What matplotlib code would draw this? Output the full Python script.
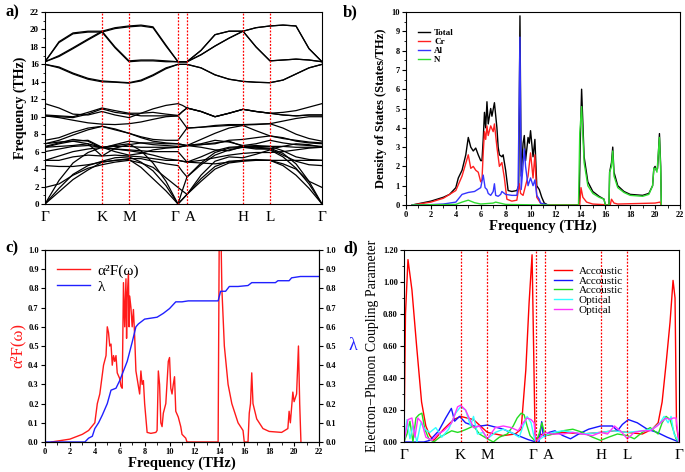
import numpy as np
import matplotlib
matplotlib.use("Agg")
import matplotlib.pyplot as plt
from matplotlib.ticker import MultipleLocator, FormatStrFormatter

plt.rcParams['font.family'] = ['Liberation Serif', 'DejaVu Serif']

# ---------------- panel a: phonon band structure ----------------
sym_labels = ["Γ", "K", "M", "Γ", "A", "H", "L", "Γ"]
sym_pos = [0, 57, 84, 133, 142, 198, 225, 277]
kpath = [0, 14, 28, 43, 57, 70, 84, 96, 108, 121, 133, 137.5, 142,
         156, 170, 184, 198, 211, 225, 238, 251, 264, 277]

band01 = [0, 1.4, 2.8, 3.9, 4.8, 5.0, 5.1, 4.2, 2.9, 1.5, 0, 0.55, 1.1, 2.9, 4.3, 4.9, 5.0, 5.0, 5.0, 4.4, 3.3, 1.8, 0]
band02 = [0, 1.8, 3.4, 4.4, 4.9, 5.3, 5.4, 4.8, 3.8, 2.1, 0, 0.55, 1.1, 3.3, 4.9, 5.4, 5.3, 5.7, 6.2, 5.4, 4.1, 2.3, 0]
band03 = [0, 2.7, 4.7, 5.9, 6.5, 6.7, 6.9, 6.1, 4.7, 2.6, 0, 1.6, 3.1, 4.7, 5.9, 6.4, 6.5, 6.5, 6.4, 5.8, 4.6, 2.6, 0]
band04 = [1.9, 2.3, 3.3, 4.1, 4.5, 4.8, 5.0, 4.7, 4.2, 3.0, 1.9, 1.5, 1.1, 2.6, 4.0, 4.7, 4.9, 5.0, 5.0, 4.6, 4.0, 2.6, 1.9]
band05 = [4.4, 4.3, 4.3, 4.5, 4.8, 5.0, 5.2, 5.2, 4.9, 4.6, 4.4, 3.7, 3.1, 4.5, 5.6, 6.2, 6.5, 6.3, 6.3, 5.6, 4.9, 4.5, 4.4]
band06 = [5.0, 5.0, 5.4, 5.6, 5.5, 5.6, 5.5, 5.4, 5.2, 5.0, 5.0, 4.9, 4.8, 5.4, 6.1, 6.5, 6.6, 6.6, 6.6, 6.1, 5.4, 5.1, 5.0]
band07 = [5.0, 5.5, 6.0, 6.3, 6.5, 6.3, 6.1, 5.9, 5.6, 5.2, 5.0, 4.9, 4.8, 4.7, 4.6, 4.8, 5.0, 5.1, 5.0, 5.0, 5.0, 5.0, 5.0]
band08 = [6.0, 6.3, 6.6, 6.7, 6.5, 6.3, 6.2, 6.1, 6.0, 6.0, 6.0, 5.4, 4.8, 5.0, 5.3, 5.6, 5.8, 5.9, 5.9, 6.0, 6.2, 6.4, 6.5]
band09 = [6.5, 6.9, 7.2, 7.3, 6.5, 6.0, 5.6, 5.8, 6.2, 6.4, 6.5, 6.6, 6.7, 6.8, 7.0, 7.2, 6.6, 6.4, 6.3, 6.6, 6.9, 6.8, 6.5]
band10 = [6.5, 6.6, 6.7, 6.9, 6.5, 6.6, 6.6, 6.5, 6.5, 6.5, 6.5, 6.6, 6.7, 6.5, 6.2, 6.1, 6.6, 6.7, 6.6, 6.6, 6.5, 6.5, 6.5]
band11 = [6.6, 7.0, 7.4, 7.2, 6.4, 6.8, 7.2, 7.0, 6.8, 6.7, 6.6, 6.65, 6.7, 6.9, 7.3, 7.1, 6.7, 6.9, 7.3, 7.0, 6.8, 6.7, 6.6]
band12 = [6.9, 7.1, 7.2, 6.9, 5.5, 6.4, 6.8, 7.0, 7.0, 6.9, 6.9, 6.8, 6.7, 6.8, 6.9, 7.3, 7.4, 7.6, 7.8, 7.6, 7.2, 7.0, 6.9]
band13 = [6.9, 7.3, 7.9, 8.5, 8.9, 8.5, 8.1, 7.6, 7.2, 7.0, 6.9, 6.8, 6.7, 7.4, 8.1, 8.7, 9.0, 8.4, 7.8, 7.5, 7.3, 7.1, 7.0]
band14 = [7.3, 7.6, 8.2, 8.7, 8.9, 8.6, 8.1, 7.7, 7.4, 7.3, 7.3, 8.0, 8.7, 8.8, 8.9, 9.0, 9.05, 9.1, 9.2, 8.7, 8.0, 7.5, 7.2]
band15 = [10.1, 9.9, 9.6, 9.3, 9.15, 9.1, 9.2, 9.4, 9.7, 10.0, 10.1, 9.4, 8.7, 8.8, 9.0, 9.1, 9.1, 9.15, 9.2, 9.5, 9.8, 10.0, 10.0]
band16 = [10.1, 10.0, 9.9, 10.3, 10.9, 10.5, 10.3, 10.1, 10.1, 10.1, 10.1, 10.6, 11.0, 10.6, 10.0, 10.4, 10.85, 10.6, 10.4, 10.2, 10.1, 10.2, 10.2]
band17 = [10.2, 10.1, 10.0, 10.5, 11.0, 10.7, 10.4, 10.4, 10.5, 10.3, 10.15, 10.6, 11.0, 10.6, 10.0, 10.4, 10.85, 10.6, 10.4, 10.2, 10.1, 10.2, 10.2]
band18 = [11.5, 11.0, 10.3, 10.2, 10.6, 10.2, 9.9, 10.4, 10.9, 11.3, 11.5, 11.3, 11.0, 10.6, 10.0, 10.4, 10.85, 10.6, 10.4, 10.5, 10.7, 11.1, 11.5]
band19 = [16.0, 15.7, 15.0, 14.4, 14.1, 14.0, 13.9, 14.2, 14.8, 15.6, 16.0, 16.0, 16.0, 15.6, 14.8, 14.3, 14.05, 13.95, 13.9, 14.2, 14.9, 15.6, 16.0]
band20 = [16.0, 15.6, 14.9, 14.3, 14.0, 13.95, 13.85, 14.1, 14.7, 15.5, 16.0, 16.0, 16.0, 15.6, 14.8, 14.3, 14.05, 13.95, 13.9, 14.2, 14.9, 15.6, 16.0]
band21 = [16.3, 18.6, 19.6, 19.8, 19.8, 20.2, 20.4, 20.5, 20.3, 18.2, 16.3, 16.3, 16.3, 17.6, 19.4, 19.8, 19.8, 20.2, 20.4, 20.5, 20.4, 17.8, 16.3]
band22 = [16.3, 18.5, 19.5, 19.7, 19.7, 20.1, 20.3, 20.4, 20.2, 18.1, 16.3, 16.3, 16.3, 17.6, 19.4, 19.8, 19.8, 20.2, 20.4, 20.5, 20.4, 17.8, 16.3]
band23 = [16.3, 17.0, 17.9, 18.9, 19.8, 18.0, 16.4, 16.5, 16.5, 16.4, 16.3, 16.3, 16.3, 17.1, 18.1, 19.0, 19.8, 18.0, 16.4, 16.5, 16.6, 16.5, 16.3]
band24 = [16.3, 16.9, 17.8, 18.8, 19.7, 17.9, 16.3, 16.4, 16.4, 16.3, 16.3, 16.3, 16.3, 17.1, 18.1, 19.0, 19.8, 18.0, 16.4, 16.5, 16.6, 16.5, 16.3]
bands = [band01, band02, band03, band04, band05, band06, band07, band08,
         band09, band10, band11, band12, band13, band14, band15, band16,
         band17, band18, band19, band20, band21, band22, band23, band24]

# ---------------- panel b: phonon DOS ----------------
tot_f = [0.5, 2, 3, 3.5, 4, 4.2, 4.5, 4.8, 5.0, 5.2, 5.4, 5.6, 5.8, 6.0, 6.1, 6.2, 6.3, 6.4, 6.5, 6.6, 6.8, 6.9, 7.1, 7.3, 7.4, 7.5, 7.7, 7.8, 8.0, 8.2, 8.5, 8.9, 9.05, 9.15, 9.25, 9.4, 9.5, 9.6, 9.8, 9.9, 10.0, 10.2, 10.35, 10.5, 10.7, 10.9, 11.1, 11.4, 13.9, 14.0, 14.1, 14.3, 14.6, 15.0, 15.5, 15.9, 16.0, 16.3, 16.35, 16.5, 16.6, 16.7, 17.0, 17.5, 18.0, 19.0, 19.5, 19.8, 19.9, 20.0, 20.1, 20.2, 20.35, 20.45, 20.5]
tot_d = [0, 0.2, 0.4, 0.55, 0.9, 1.4, 1.8, 2.6, 3.5, 3.0, 2.8, 2.95, 2.6, 2.3, 2.3, 3.4, 4.8, 4.0, 5.35, 4.2, 5.0, 4.6, 5.3, 4.0, 3.0, 2.6, 2.5, 2.6, 1.8, 0.75, 0.7, 0.75, 1.0, 9.8, 1.5, 3.2, 3.6, 2.3, 3.5, 3.2, 3.85, 2.5, 3.4, 1.0, 0.8, 0.4, 0.1, 0, 0, 3.5, 6.0, 2.5, 1.2, 0.7, 0.45, 0.3, 0, 0, 1.7, 2.2, 3.0, 1.7, 1.0, 0.7, 0.55, 0.5, 0.6, 1.0, 1.9, 2.0, 1.8, 1.9, 3.7, 2.0, 0]
cr_f = [0.5, 2, 3, 4, 4.5, 5.0, 5.2, 5.4, 5.6, 5.8, 6.0, 6.1, 6.2, 6.3, 6.4, 6.5, 6.6, 6.8, 7.0, 7.1, 7.3, 7.5, 7.7, 7.9, 8.1, 8.5, 8.9, 9.1, 9.2, 9.4, 9.6, 9.8, 10.0, 10.2, 10.35, 10.5, 10.8, 11.0, 13.95, 14.05, 14.2, 14.5, 15.0, 16.4, 16.5, 16.7, 17.0, 20.0, 20.4, 20.5]
cr_d = [0, 0.15, 0.35, 0.75, 1.5, 2.6, 1.9, 2.0, 1.8, 1.7, 1.2, 1.3, 2.7, 3.8, 3.4, 4.1, 3.6, 4.1, 3.8, 4.2, 3.0, 2.0, 2.2, 1.4, 0.3, 0.2, 0.25, 1.1, 0.6, 0.5, 1.0, 1.5, 2.7, 1.4, 2.6, 0.4, 0.1, 0, 0, 0.9, 0.4, 0.15, 0.05, 0, 0.3, 0.1, 0.05, 0.1, 0.15, 0]
al_f = [0.5, 2, 3, 4, 4.5, 5.0, 5.5, 6.0, 6.2, 6.35, 6.5, 6.6, 6.8, 7.0, 7.1, 7.2, 7.4, 7.6, 7.7, 8.0, 8.5, 8.9, 9.0, 9.15, 9.25, 9.5, 9.6, 9.8, 10.0, 10.2, 10.35, 10.5, 10.7, 10.8, 11.1, 11.4]
al_d = [0, 0.02, 0.05, 0.15, 0.55, 0.65, 0.7, 0.9, 1.55, 0.9, 0.8, 0.6, 0.5, 0.7, 1.1, 0.5, 0.45, 0.55, 0.7, 0.55, 0.5, 0.5, 1.0, 8.7, 0.8, 2.9, 2.0, 1.0, 1.4, 1.0, 1.3, 0.5, 0.3, 0.1, 0.05, 0]
n_f = [0.5, 4, 4.5, 5.0, 5.5, 6.0, 7.0, 7.2, 8.0, 9.0, 11.0, 13.85, 13.95, 14.1, 14.3, 14.6, 15.0, 15.5, 15.9, 16.0, 16.3, 16.35, 16.5, 16.6, 16.7, 17.0, 17.5, 18.0, 19.0, 19.5, 19.8, 19.9, 20.05, 20.15, 20.35, 20.45, 20.5]
n_d = [0, 0.03, 0.15, 0.25, 0.12, 0.05, 0.1, 0.15, 0.03, 0.02, 0, 0, 3.7, 5.1, 2.2, 1.0, 0.6, 0.4, 0.3, 0, 0, 1.7, 2.0, 2.8, 1.5, 0.9, 0.65, 0.5, 0.45, 0.55, 1.0, 1.9, 1.9, 1.7, 3.5, 1.8, 0]

# ---------------- panel c: Eliashberg function and lambda ----------------
a2f_f = [0.5, 1, 2, 3, 3.5, 4.0, 4.2, 4.4, 4.7, 4.9, 5.0, 5.1, 5.2, 5.3, 5.4, 5.5, 5.6, 5.7, 5.8, 6.0, 6.1, 6.2, 6.3, 6.4, 6.5, 6.55, 6.6, 6.7, 6.75, 6.8, 6.9, 7.0, 7.1, 7.2, 7.3, 7.5, 7.6, 7.7, 7.8, 7.9, 8.0, 8.2, 8.5, 8.9, 9.0, 9.1, 9.2, 9.3, 9.4, 9.5, 9.7, 9.9, 10.0, 10.1, 10.2, 10.3, 10.4, 10.5, 10.7, 10.9, 11.0, 11.3, 11.4, 13.9, 14.0, 14.1, 14.2, 14.4, 14.7, 15.0, 15.5, 15.9, 16.0, 16.3, 16.4, 16.5, 16.6, 16.7, 17.0, 17.5, 18.0, 19.0, 19.5, 19.6, 19.7, 19.9, 20.0, 20.2, 20.35, 20.45, 20.55]
a2f_v = [0, 0.005, 0.015, 0.04, 0.06, 0.1, 0.2, 0.25, 0.4, 0.45, 0.6, 0.57, 0.5, 0.51, 0.4, 0.45, 0.42, 0.45, 0.36, 0.33, 0.29, 0.28, 0.83, 0.6, 0.85, 0.54, 0.75, 0.88, 0.6, 0.76, 0.7, 0.6, 0.69, 0.55, 0.37, 0.29, 0.25, 0.37, 0.3, 0.32, 0.2, 0.05, 0.045, 0.05, 0.06, 0.37, 0.3, 0.1, 0.08, 0.15, 0.2, 0.42, 0.44, 0.28, 0.25, 0.3, 0.34, 0.16, 0.13, 0.08, 0.04, 0.02, 0, 0, 1.2, 1.2, 0.8, 0.5, 0.3, 0.2, 0.1, 0.06, 0, 0, 0.15, 0.2, 0.36, 0.2, 0.12, 0.07, 0.055, 0.05, 0.07, 0.16, 0.1, 0.26, 0.21, 0.25, 0.5, 0.2, 0]
lam_f = [0, 3.2, 3.5, 3.8, 4.0, 4.3, 4.6, 5.0, 5.3, 5.7, 6.0, 6.3, 6.6, 7.0, 7.3, 7.5, 7.8, 8.0, 8.5, 9.0, 9.5, 10.0, 10.5, 11.0, 11.5, 12.0, 13.9, 14.1, 14.5, 14.8, 15.5, 16.3, 16.6, 17.0, 18.5, 18.7, 19.6, 19.8, 20.3, 20.5, 22]
lam_v = [0, 0.0, 0.02, 0.03, 0.07, 0.1, 0.14, 0.2, 0.27, 0.28, 0.32, 0.37, 0.42, 0.52, 0.6, 0.615, 0.63, 0.64, 0.645, 0.65, 0.67, 0.695, 0.73, 0.73, 0.735, 0.735, 0.735, 0.785, 0.785, 0.81, 0.81, 0.815, 0.83, 0.83, 0.83, 0.84, 0.84, 0.855, 0.86, 0.862, 0.862]

# ---------------- panel d: mode-resolved coupling ----------------
red_k = [0, 1.5, 4, 8, 12.7, 17.7, 22, 26, 30, 40, 50, 57, 70, 84, 100, 112, 118, 122.7, 126, 129, 132, 133, 137, 142, 160, 180, 198, 212, 225, 240, 250, 256, 260, 264, 268, 271, 273, 274.5, 277]
red_v = [0, 0.8, 1.14, 0.95, 0.6, 0.25, 0.1, 0.04, 0.01, 0.08, 0.14, 0.16, 0.14, 0.06, 0.04, 0.05, 0.08, 0.45, 0.87, 1.17, 0.05, 0, 0.05, 0.04, 0.06, 0.05, 0.06, 0.07, 0.06, 0.05, 0.08, 0.12, 0.25, 0.49, 0.75, 1.01, 0.9, 0.1, 0]
blue_k = [0, 20, 26, 35, 42, 47.7, 51, 56, 62, 72.7, 84, 100, 115, 125, 133, 136, 138.7, 140, 142, 146, 152, 160, 167.7, 176, 186, 198, 210, 215, 220, 226, 235, 245, 255, 265, 277]
blue_v = [0, 0.0, 0.01, 0.07, 0.15, 0.21, 0.13, 0.16, 0.12, 0.096, 0.106, 0.08, 0.04, 0.015, 0, 0.0, 0.127, 0.05, 0.033, 0.06, 0.07, 0.04, 0.02, 0.05, 0.08, 0.1, 0.1, 0.07, 0.11, 0.14, 0.12, 0.08, 0.06, 0.03, 0]
green_k = [0, 3, 6, 9, 12, 15, 18, 21, 25, 30, 36, 42, 48, 54, 57, 63, 70, 76, 84, 90, 96, 104, 110, 114, 118, 121, 124, 127, 130, 133, 136, 139, 142, 150, 160, 170, 180, 190, 198, 206, 215, 225, 232, 240, 248, 252, 256, 260, 264, 268, 271, 274, 277]
green_v = [0, 0.05, 0.13, 0.0, 0.15, 0.17, 0.18, 0.08, 0.02, 0.0, 0.03, 0.05, 0.07, 0.06, 0.065, 0.08, 0.1, 0.05, 0.02, 0.0, 0.03, 0.05, 0.1, 0.15, 0.18, 0.17, 0.1, 0.04, 0.02, 0, 0.05, 0.12, 0.04, 0.05, 0.07, 0.08, 0.06, 0.03, 0.01, 0.03, 0.05, 0.04, 0.02, 0.06, 0.09, 0.07, 0.05, 0.12, 0.16, 0.14, 0.08, 0.02, 0]
cyan_k = [0, 3, 6, 9, 13, 17, 21, 26, 32, 38, 45, 52, 57, 62, 67, 70, 74, 80, 84, 92, 100, 108, 116, 120, 124, 128, 131, 133, 142, 150, 160, 170, 180, 198, 210, 225, 240, 250, 258, 262, 266, 269, 272, 277]
cyan_v = [0, 0.14, 0.02, 0.1, 0.0, 0.12, 0.08, 0.06, 0.09, 0.03, 0.08, 0.18, 0.22, 0.2, 0.1, 0.16, 0.05, 0.06, 0.02, 0.06, 0.08, 0.06, 0.03, 0.1, 0.16, 0.12, 0.03, 0, 0.04, 0.06, 0.07, 0.06, 0.05, 0.06, 0.07, 0.06, 0.07, 0.08, 0.12, 0.16, 0.12, 0.16, 0.05, 0]
mag_k = [0, 4, 8, 11, 14, 18, 22, 28, 34, 40, 48, 54, 57, 62, 70, 76, 84, 92, 100, 108, 115, 120, 124, 128, 131, 133, 142, 150, 160, 170, 180, 190, 198, 205, 212, 218, 225, 232, 240, 248, 255, 260, 264, 268, 271, 274, 277]
mag_v = [0, 0.14, 0.15, 0.03, 0.15, 0.12, 0.03, 0.01, 0.05, 0.07, 0.12, 0.22, 0.23, 0.2, 0.09, 0.1, 0.02, 0.09, 0.1, 0.09, 0.07, 0.12, 0.15, 0.14, 0.12, 0, 0.06, 0.05, 0.05, 0.06, 0.05, 0.04, 0.06, 0.05, 0.1, 0.07, 0.02, 0.06, 0.07, 0.07, 0.1, 0.13, 0.15, 0.14, 0.15, 0.15, 0]
mode_labels = ["Accoustic", "Accoustic", "Accoustic", "Optical", "Optical"]

# ---------------- figure ----------------
W, H = 685, 472
fig = plt.figure(figsize=(W / 100, H / 100), dpi=100)

def ax_at(l, t, r, b):
    return fig.add_axes([l / W, 1 - b / H, (r - l) / W, (b - t) / H])

def style_ticks(ax, size=6.5):
    ax.tick_params(direction='out', length=3, width=0.8, labelsize=size, pad=1.5)
    ax.tick_params(which='minor', direction='out', length=1.8, width=0.6)
    for lab in ax.get_xticklabels() + ax.get_yticklabels():
        lab.set_fontweight('bold')
    for s in ax.spines.values():
        s.set_linewidth(0.8)

def sym_text(ax, ypos):
    for p, lab in zip(sym_pos, sym_labels):
        off = -3 if (lab == "Γ" and p == 133) else (3 if lab == "A" else 0)
        ax.text(p + off, ypos, lab, ha='center', va='top', fontsize=11)

# a)
ax = ax_at(45, 12, 322, 204)
for bnd in bands:
    ax.plot(kpath, bnd, color='black', lw=0.9)
for p in sym_pos[1:-1]:
    ax.axvline(p, color='red', ls=(0, (1.5, 1.2)), lw=0.9)
ax.set_xlim(0, 277)
ax.set_ylim(0, 22)
ax.yaxis.set_major_locator(MultipleLocator(2))
ax.yaxis.set_minor_locator(MultipleLocator(1))
ax.set_xticks([])
style_ticks(ax)
sym_text(ax, -0.8)
ax.set_ylabel("Frequency (THz)", fontsize=10, fontweight='bold', labelpad=2)

# b)
ax = ax_at(406, 12, 680, 205)
ax.plot(tot_f, tot_d, color='black', lw=1.0, label='Total')
ax.plot(cr_f, cr_d, color='#ff2020', lw=1.0, label='Cr')
ax.plot(al_f, al_d, color='#3535ff', lw=1.0, label='Al')
ax.plot(n_f, n_d, color='#30dd30', lw=1.0, label='N')
ax.set_xlim(0, 22)
ax.set_ylim(0, 10)
ax.xaxis.set_major_locator(MultipleLocator(2))
ax.xaxis.set_minor_locator(MultipleLocator(1))
ax.yaxis.set_major_locator(MultipleLocator(1))
ax.yaxis.set_minor_locator(MultipleLocator(0.5))
style_ticks(ax, 6)
ax.set_xlabel("Frequency (THz)", fontsize=10.5, fontweight='bold', labelpad=0)
ax.set_ylabel("Density of States (States/THz)", fontsize=9, fontweight='bold', labelpad=3)
ax.legend(loc='upper left', bbox_to_anchor=(0.03, 0.93), frameon=False,
          prop={'weight': 'bold', 'size': 6.5}, handlelength=1.3,
          handletextpad=0.5, labelspacing=0.05, borderaxespad=0)

# c)
ax = ax_at(45, 250, 319, 442)
ax.plot(a2f_f, a2f_v, color='#ff1a1a', lw=1.0, label='α²F(ω)')
ax.plot(lam_f, lam_v, color='#2020ff', lw=1.0, label='λ')
ax.set_xlim(0, 22)
ax.set_ylim(0, 1.0)
ax.xaxis.set_major_locator(MultipleLocator(2))
ax.xaxis.set_minor_locator(MultipleLocator(1))
ax.yaxis.set_major_locator(MultipleLocator(0.1))
ax.yaxis.set_major_formatter(FormatStrFormatter('%.1f'))
style_ticks(ax, 6)
ax.set_xlabel("Frequency (THz)", fontsize=10.5, fontweight='bold', labelpad=0)
ax.set_ylabel('α²F(ω)', fontsize=12, color='#ff1a1a', labelpad=2)
ax2 = ax.twinx()
ax2.set_ylim(0, 1.0)
ax2.yaxis.set_major_locator(MultipleLocator(0.1))
ax2.yaxis.set_major_formatter(FormatStrFormatter('%.1f'))
style_ticks(ax2, 6)
ax2.set_ylabel('λ', fontsize=13, color='#2020ff', rotation=0, labelpad=12, va='center')
ax.legend(loc='upper left', bbox_to_anchor=(0.02, 0.96), frameon=False,
          prop={'size': 11}, handlelength=2.2, handletextpad=0.5,
          labelspacing=0.15, borderaxespad=0)

# d)
ax = ax_at(404, 250, 679, 442)
ax.plot(red_k, red_v, color='#ff0000', lw=1.0, label=mode_labels[0])
ax.plot(blue_k, blue_v, color='#1414ff', lw=1.0, label=mode_labels[1])
ax.plot(green_k, green_v, color='#22dd22', lw=1.0, label=mode_labels[2])
ax.plot(cyan_k, cyan_v, color='#33ffff', lw=1.0, label=mode_labels[3])
ax.plot(mag_k, mag_v, color='#ff33ff', lw=1.0, label=mode_labels[4])
for p in sym_pos[1:-1]:
    ax.axvline(p, color='red', ls=(0, (1.5, 1.2)), lw=0.9)
ax.set_xlim(0, 277)
ax.set_ylim(0, 1.2)
ax.yaxis.set_major_locator(MultipleLocator(0.2))
ax.yaxis.set_minor_locator(MultipleLocator(0.1))
ax.yaxis.set_major_formatter(FormatStrFormatter('%.2f'))
ax.set_xticks([])
style_ticks(ax, 6)
sym_text(ax, -0.045)
ax.set_ylabel("Electron−Phonon Coupling Parameter", fontsize=10, labelpad=3)
ax.legend(loc='upper left', bbox_to_anchor=(0.53, 0.94), frameon=False,
          prop={'size': 8}, handlelength=1.6, handletextpad=0.6,
          labelspacing=0.0, borderaxespad=0)

# panel letters
for x, y, t in [(5, 12, "a)"), (343, 12, "b)"), (5, 248, "c)"), (343, 248, "d)")]:
    fig.text(x / W, 1 - y / H, t, fontsize=12, fontweight='bold', va='center')

fig.savefig("out.png", dpi=100)
